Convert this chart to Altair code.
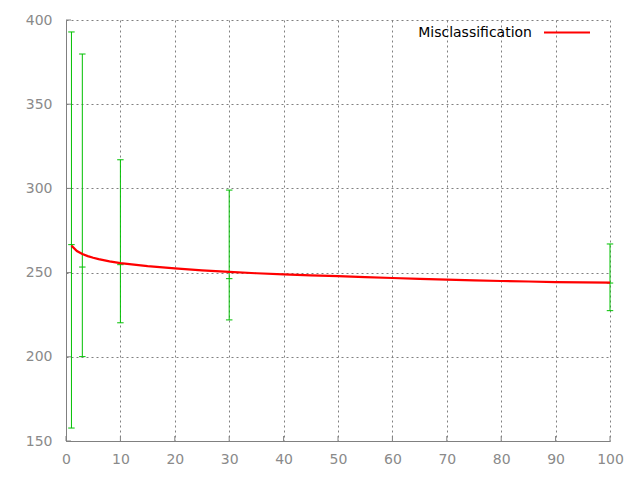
import altair as alt
import pandas as pd

# Red curve (Misclassification)
line_x = [1, 2, 3, 4, 5, 6, 8, 10, 15, 20, 25, 30, 35, 40, 45, 50, 55, 60, 65, 70, 75, 80, 85, 90, 95, 100]
line_y = [266.0, 262.8, 261.0, 259.8, 258.8, 258.0, 256.7, 255.6, 253.8, 252.5, 251.3, 250.4, 249.6,
          249.0, 248.4, 247.9, 247.3, 246.8, 246.3, 245.8, 245.4, 245.0, 244.7, 244.4, 244.2, 244.0]

# Green error bars
err_x = [1, 3, 10, 30, 100]
err_mid = [266.6, 253.3, 254.7, 246.4, 243.8]
err_lo = [157.7, 200.1, 220.2, 221.9, 227.4]
err_hi = [392.9, 379.8, 317.0, 299.0, 267.0]

x_ticks = [0, 10, 20, 30, 40, 50, 60, 70, 80, 90, 100]
y_ticks = [150, 200, 250, 300, 350, 400]

W, H = 544, 421
FONT = "DejaVu Sans"
GRAY = "#808080"
LABEL_GRAY = "#8a8a8a"
GREEN = "#00c000"
RED = "#ff0000"

line_df = pd.DataFrame({"x": line_x, "y": line_y})
err_df = pd.DataFrame({"x": err_x, "mid": err_mid, "lo": err_lo, "hi": err_hi})
xt_df = pd.DataFrame({"v": x_ticks})
yt_df = pd.DataFrame({"v": y_ticks})

xs = alt.Scale(domain=[0, 100], nice=False, zero=False)
ys = alt.Scale(domain=[150, 400], nice=False, zero=False)

x_axis = alt.Axis(values=x_ticks, grid=True, gridColor=GRAY, gridDash=[2, 3], gridOpacity=1,
                  tickSize=0, domainColor=GRAY, labelColor=LABEL_GRAY, labelFont=FONT, labelFontSize=14,
                  labelPadding=11, title=None, labelFlush=False)
y_axis = alt.Axis(values=y_ticks, grid=True, gridColor=GRAY, gridDash=[2, 3], gridOpacity=1,
                  tickSize=0, domainColor=GRAY, labelColor=LABEL_GRAY, labelFont=FONT, labelFontSize=14,
                  labelPadding=14, title=None, labelFlush=False)

base_grid = alt.Chart(line_df).mark_line(opacity=0).encode(
    x=alt.X("x:Q", scale=xs, axis=x_axis),
    y=alt.Y("y:Q", scale=ys, axis=y_axis),
)

# inward ticks
xticks = alt.Chart(xt_df).mark_rule(color=GRAY, strokeWidth=1).encode(
    x=alt.X("v:Q", scale=xs), y=alt.value(H), y2=alt.value(H - 5))
yticks = alt.Chart(yt_df).mark_rule(color=GRAY, strokeWidth=1).encode(
    y=alt.Y("v:Q", scale=ys), x=alt.value(0), x2=alt.value(5))

bars = alt.Chart(err_df).mark_rule(color=GREEN, strokeWidth=1).encode(
    x=alt.X("x:Q", scale=xs), y=alt.Y("lo:Q", scale=ys), y2="hi:Q")
cap_shape = "M-1,0L1,0"
caps_lo = alt.Chart(err_df).mark_point(shape=cap_shape, color=GREEN, size=42, strokeWidth=1,
                                       filled=False, opacity=1).encode(
    x=alt.X("x:Q", scale=xs), y=alt.Y("lo:Q", scale=ys))
caps_hi = alt.Chart(err_df).mark_point(shape=cap_shape, color=GREEN, size=42, strokeWidth=1,
                                       filled=False, opacity=1).encode(
    x=alt.X("x:Q", scale=xs), y=alt.Y("hi:Q", scale=ys))
caps_mid = alt.Chart(err_df).mark_point(shape=cap_shape, color=GREEN, size=42, strokeWidth=1,
                                        filled=False, opacity=1).encode(
    x=alt.X("x:Q", scale=xs), y=alt.Y("mid:Q", scale=ys))

curve = alt.Chart(line_df).mark_line(color=RED, strokeWidth=2.2).encode(
    x=alt.X("x:Q", scale=xs), y=alt.Y("y:Q", scale=ys))

legend_df = pd.DataFrame({"label": ["Misclassification"]})
leg_text = alt.Chart(legend_df).mark_text(align="right", baseline="middle", font=FONT,
                                          fontSize=14, color="black").encode(
    text="label:N", x=alt.value(466), y=alt.value(12.5))
leg_line = alt.Chart(legend_df).mark_rule(color=RED, strokeWidth=2).encode(
    x=alt.value(478), x2=alt.value(524), y=alt.value(12.5))

chart = alt.layer(base_grid, xticks, yticks, bars, caps_lo, caps_hi, caps_mid, curve,
                  leg_text, leg_line).properties(
    width=W, height=H,
    autosize=alt.AutoSizeParams(type="none"),
    padding={"left": 58, "top": 12, "right": 22, "bottom": 31},
).configure_view(stroke=None).configure_axis(domainWidth=1)

chart.save("out.html", embed_options={"renderer": "svg", "actions": False})
